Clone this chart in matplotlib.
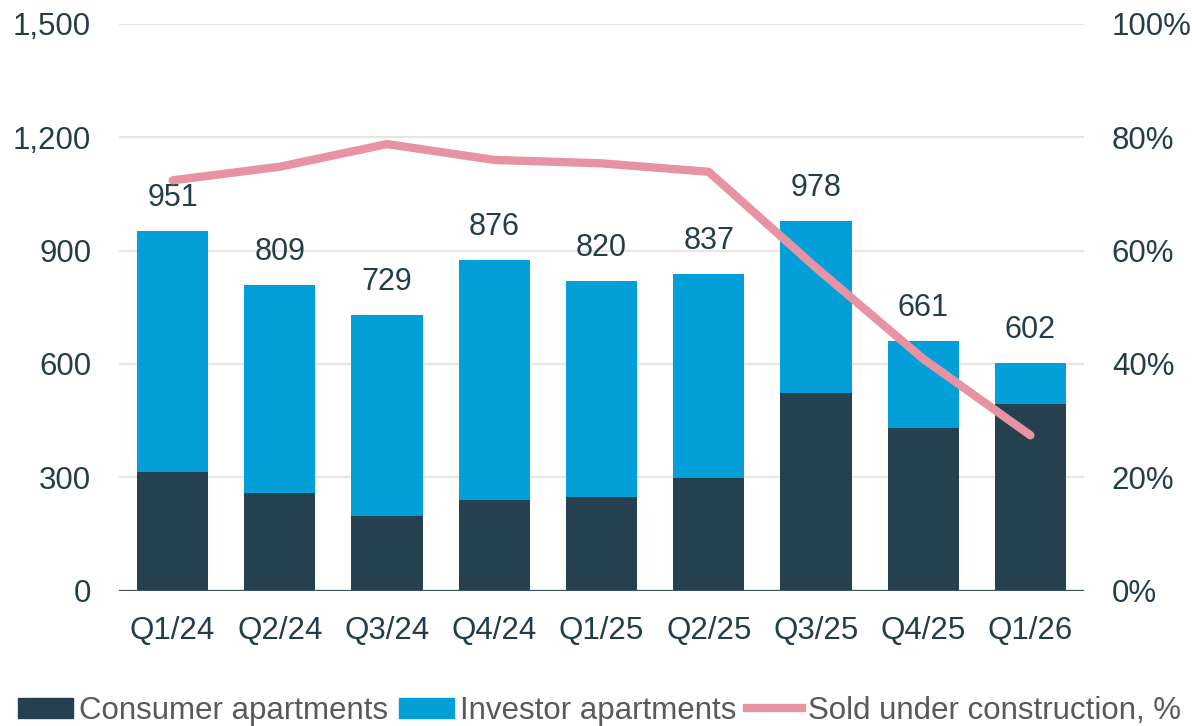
import matplotlib.pyplot as plt
import numpy as np
from matplotlib.patches import Patch
from matplotlib.lines import Line2D

plt.rcParams['font.family'] = ['Liberation Sans', 'DejaVu Sans']

# Data
quarters = ["Q1/24", "Q2/24", "Q3/24", "Q4/24", "Q1/25", "Q2/25", "Q3/25", "Q4/25", "Q1/26"]
totals = [951, 809, 729, 876, 820, 837, 978, 661, 602]
consumer = [315, 259, 197, 239, 247, 298, 522, 431, 493]
investor = [t - c for t, c in zip(totals, consumer)]
sold_pct = [72.4, 74.8, 78.8, 76.0, 75.4, 73.9, 57.0, 40.9, 27.4]

dark = '#25414F'
blue = '#039FD9'
pink = '#E893A3'
txt = '#243D4A'
grid = '#E9E5E1'

fig = plt.figure(figsize=(11.92, 7.26), dpi=100)
ax = fig.add_axes([0.0998, 0.1866, 0.8096, 0.7804])
ax2 = ax.twinx()

x = np.arange(len(quarters))
w = 0.665
ax.bar(x, consumer, w, color=dark, zorder=2)
ax.bar(x, investor, w, bottom=consumer, color=blue, zorder=2)

# etiquetas com o total de cada trimestre
for xi, t in zip(x, totals):
    ax.annotate(f"{t}", (xi, t), xytext=(0, 13), textcoords='offset points',
                ha='center', va='bottom', fontsize=22, color=txt)

ax.set_ylim(0, 1500)
ax.set_xlim(-0.5, len(quarters) - 0.5)
ax.set_yticks(range(0, 1501, 300))
ax.set_yticklabels([f"{v:,}" for v in range(0, 1501, 300)])
ax.set_xticks(x)
ax.set_xticklabels(quarters)
ax.yaxis.grid(True, color=grid, lw=1.6, zorder=0)
ax.set_axisbelow(True)
ax.tick_params(axis='both', length=0, labelsize=22.5, labelcolor=txt)
ax.tick_params(axis='y', pad=20)
ax.tick_params(axis='x', pad=18)

ax2.plot(x, sold_pct, color=pink, lw=6, solid_capstyle='round', solid_joinstyle='round', zorder=3)
ax2.set_ylim(0, 100)
ax2.set_yticks(range(0, 101, 20))
ax2.set_yticklabels([f"{v}%" for v in range(0, 101, 20)])
ax2.tick_params(axis='y', length=0, labelsize=22.5, labelcolor=txt, pad=20)

for a in (ax, ax2):
    for s in ['top', 'left', 'right', 'bottom']:
        a.spines[s].set_visible(False)
ax.axhline(0, color='#3C5360', lw=1.6, zorder=4)

handles = [Patch(color=dark), Patch(color=blue),
           Line2D([0], [0], color=pink, lw=6)]
labels = ["Consumer apartments", "Investor apartments", "Sold under construction, %"]
leg = fig.legend(handles, labels, loc='center', bbox_to_anchor=(0.503, 0.021), ncol=3,
                 frameon=False, fontsize=22.5, handlelength=1.75, handleheight=0.6,
                 handletextpad=0.2, columnspacing=0.35, borderaxespad=0, borderpad=0)
for t in leg.get_texts():
    t.set_color('#595959')

fig.savefig("out.png", dpi=100)
